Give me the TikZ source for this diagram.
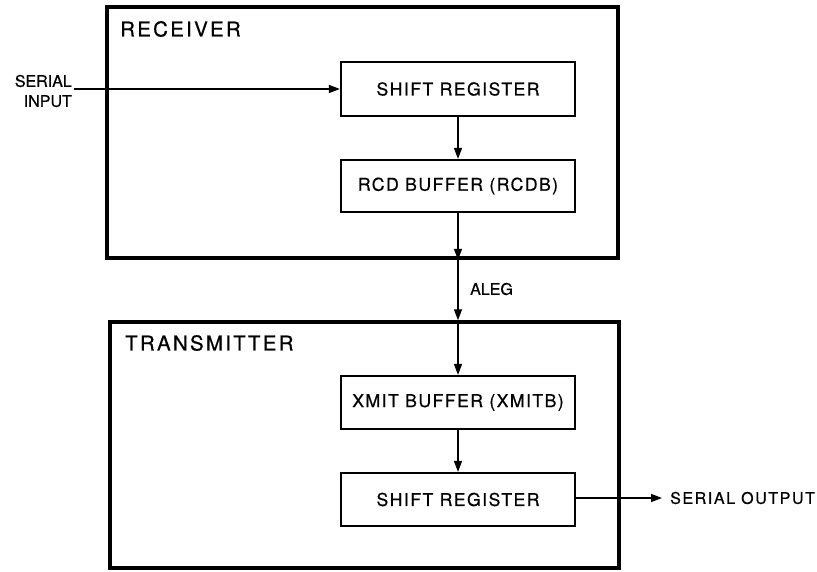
\documentclass[tikz,border=0pt]{standalone}
\usepackage{fontspec}
\setmainfont[FakeBold=0.6]{TeX Gyre Heros}
\newfontfamily\titlefont[LetterSpace=11,FakeBold=0.6]{TeX Gyre Heros}
\newfontfamily\boxfont[LetterSpace=8,FakeBold=0.6]{TeX Gyre Heros}
\newfontfamily\labfont[LetterSpace=10,FakeBold=0.6]{TeX Gyre Heros}
\usetikzlibrary{arrows.meta}
\begin{document}
\begin{tikzpicture}[x=1pt,y=-1pt,
  outer/.style={draw, line width=3.5pt, minimum width=#1, inner sep=0pt},
  unit/.style={draw, line width=2.2pt, minimum width=234pt, minimum height=53pt, inner sep=0pt, font=\boxfont\fontsize{17.7}{20}\selectfont},
  title/.style={anchor=west, inner sep=0pt, font=\titlefont\fontsize{20.5}{24}\selectfont},
  lab/.style={inner sep=0pt, font=\labfont\fontsize{16}{20}\selectfont},
  plainlab/.style={inner sep=0pt, font=\fontsize{16}{20}\selectfont},
  flow/.style={line width=1.4pt, -{Triangle[length=11pt,width=8pt]}}
]
\useasboundingbox (0,0) rectangle (817,571);
\node[outer=511pt, minimum height=251pt] (rx) at (362.5,132.5) {};
\node[outer=509pt, minimum height=246pt] (tx) at (364.5,445) {};
\node[title] (rxt) at (120,29) {RECEIVER};
\node[title] (txt) at (125,343) {TRANSMITTER};
\node[unit, minimum height=54pt] (rxsr) at (458,89) {SHIFT REGISTER};
\node[unit, minimum height=52pt] (rcdb) at (458,186) {RCD BUFFER (RCDB)};
\node[unit] (xmitb) at (458,402.5) {XMIT BUFFER (XMITB)};
\node[unit] (txsr) at (458,499.5) {SHIFT REGISTER};
\node[plainlab, align=right, anchor=east] (sin) at (72,91) {SERIAL\\INPUT};
\node[plainlab, anchor=west] (aleg) at (470,289) {ALEG};
\node[lab, anchor=west] (sout) at (670,498) {SERIAL OUTPUT};
\coordinate (inp) at (74,89);
\coordinate (outp) at (662,498);
\draw[flow] (inp) -- (rxsr.west);
\draw[flow] (rxsr.south) -- (rcdb.north);
\draw[flow] (rcdb.south) -- (rcdb.south |- rx.south);
\draw[flow] (rcdb.south |- rx.south) -- (xmitb.north |- tx.north);
\draw[flow] (xmitb.north |- tx.north) -- (xmitb.north);
\draw[flow] (xmitb.south) -- (txsr.north);
\draw[flow] (txsr.east |- outp) -- (outp);
\end{tikzpicture}
\end{document}
